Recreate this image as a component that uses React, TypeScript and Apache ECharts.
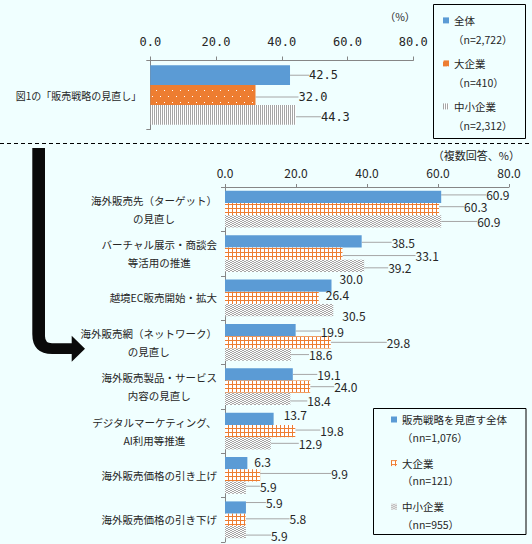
import React, { useEffect, useRef } from 'react';
import * as echarts from 'echarts';

// 図1 (top)
const topCategories = ['図1の「販売戦略の見直し」'];
const topAll = [42.5];
const topLarge = [32.0];
const topSmall = [44.3];

// 見直しの内容 (bottom)
const categories = [
  '海外販売先（ターゲット）\nの見直し',
  'バーチャル展示・商談会\n等活用の推進',
  '越境EC販売開始・拡大',
  '海外販売網（ネットワーク）\nの見直し',
  '海外販売製品・サービス\n内容の見直し',
  'デジタルマーケティング、\nAI利用等推進',
  '海外販売価格の引き上げ',
  '海外販売価格の引き下げ',
];
const reviewAll = [60.9, 38.5, 30.0, 19.9, 19.1, 13.7, 6.3, 5.9];
const reviewLarge = [60.3, 33.1, 26.4, 29.8, 24.0, 19.8, 9.9, 5.8];
const reviewSmall = [60.9, 39.2, 30.5, 18.6, 18.4, 12.9, 5.9, 5.9];

const topLegend = ['全体', '大企業', '中小企業'];
const topCounts = ['（n=2,722）', '（n=410）', '（n=2,312）'];
const bottomLegend = ['販売戦略を見直す全体', '大企業#2', '中小企業#2'];
const bottomCounts = ['（nn=1,076）', '（nn=121）', '（nn=955）'];

// label offsets (leader lines), [dx, dy]
const topOffsets = [[[14, 0]], [[38, 2]], [[20, 2]]];
const bottomOffsets = [
  [[40, -2], [25, 1], [3, -7], [20, 1], [19.5, 0], [5, -4], [2, -2], [15, -5]],
  [[20, -2.5], [68, 2], [2, -3], [51, 0], [19, 0], [20, -1], [66, -2], [39, -1]],
  [[31, 0], [19, 2], [4, 5], [13, 0], [12, 2], [23, 0], [9, -1.5], [20, 3]],
];

const BLUE = '#5B9BD5';
const ORANGE = '#ED7D31';
const GREY = '#A5A5A5';
const JP = '"Noto Sans CJK JP", sans-serif';

const ARROW =
  'M32.3 148 L32.3 334 Q32.3 354 52.3 354 L71.7 354 L71.7 361.7 L85 348.7 L71.7 335.7 L71.7 343.3 L52 343.3 Q45 343.3 45 336.3 L45 148 Z';

function tile(w: number, h: number, bg: string, fg: string, cells: number[][]) {
  const c = document.createElement('canvas');
  c.width = w;
  c.height = h;
  const ctx = c.getContext('2d')!;
  ctx.fillStyle = bg;
  ctx.fillRect(0, 0, w, h);
  ctx.fillStyle = fg;
  cells.forEach(([x, y, cw, ch]) => ctx.fillRect(x, y, cw, ch));
  return { image: c, repeat: 'repeat' };
}

function bar(
  name: string,
  values: number[],
  color: any,
  offsets: number[][],
  idx: number,
  gap: string,
  font: string,
) {
  return {
    type: 'bar',
    name,
    xAxisIndex: idx,
    yAxisIndex: idx,
    barGap: '0%',
    barCategoryGap: gap,
    itemStyle: { color },
    data: values.map((v, i) => ({ value: v, labelLine: { show: offsets[i][0] > 6 } })),
    label: {
      show: true,
      position: 'right',
      distance: 5,
      fontSize: 12,
      fontFamily: font,
      color: '#262626',
      formatter: (p: any) => Number(p.value).toFixed(1),
    },
    labelLine: { lineStyle: { color: '#A6A6A6', width: 1 } },
    labelLayout: (p: any) => ({ dx: offsets[p.dataIndex][0], dy: offsets[p.dataIndex][1] }),
  };
}

const App: React.FC = () => {
  const chartRef = useRef<HTMLDivElement>(null);

  useEffect(() => {
    echarts.graphic.registerShape('arrowShape', echarts.graphic.extendPath(ARROW, {}) as any);
    const chart = echarts.init(chartRef.current!, null, { renderer: 'svg' });

    const dots = tile(8, 12, ORANGE, '#ffffff', [[0, 0, 1, 1], [4, 6, 1, 1]]);
    const stripes = tile(2, 2, '#ffffff', GREY, [[0, 0, 1, 2]]);
    const grid = tile(4, 4, '#ffffff', ORANGE, [[0, 0, 4, 1], [0, 0, 1, 4]]);
    const checks = tile(4, 2, GREY, '#ffffff', [[0, 0, 2, 1], [2, 1, 2, 1]]);

    const axisLine = { show: true, lineStyle: { color: '#868686' } };
    const mono = '"DejaVu Sans Mono", monospace';

    const options = {
      animation: false,
      backgroundColor: '#F0FFFF',
      textStyle: { fontFamily: JP },
      grid: [
        { left: 150.3, top: 60.5, width: 263, height: 69 },
        { left: 225, top: 187, width: 284, height: 355 },
      ],
      xAxis: [
        {
          gridIndex: 0,
          type: 'value',
          position: 'top',
          min: 0,
          max: 80,
          interval: 20,
          axisLine,
          axisTick: { show: true, length: 4, lineStyle: { color: '#868686' } },
          splitLine: { show: false },
          axisLabel: {
            margin: 13,
            fontSize: 12,
            fontFamily: mono,
            color: '#262626',
            formatter: (v: number) => v.toFixed(1),
          },
        },
        {
          gridIndex: 1,
          type: 'value',
          position: 'top',
          min: 0,
          max: 80,
          interval: 20,
          axisLine,
          axisTick: { show: true, length: 3, lineStyle: { color: '#868686' } },
          splitLine: { show: false },
          axisLabel: {
            margin: 9,
            fontSize: 12,
            color: '#262626',
            formatter: (v: number) => v.toFixed(1),
          },
        },
      ],
      yAxis: [
        {
          gridIndex: 0,
          type: 'category',
          inverse: true,
          data: topCategories,
          axisLine,
          axisTick: { show: true, length: 4, lineStyle: { color: '#868686' } },
          axisLabel: { margin: 9, fontSize: 10, color: '#262626' },
        },
        {
          gridIndex: 1,
          type: 'category',
          inverse: true,
          data: categories,
          axisLine,
          axisTick: { show: true, length: 4, lineStyle: { color: '#868686' } },
          axisLabel: {
            margin: 8,
            align: 'right',
            color: '#262626',
            formatter: (v: string) =>
              v
                .split('\n')
                .map((l) => `{c|${l}}`)
                .join('\n'),
            rich: { c: { align: 'center', fontSize: 10.5, lineHeight: 18, color: '#262626' } },
          },
        },
      ],
      legend: [
        {
          left: 443,
          top: 13.4,
          orient: 'vertical',
          padding: 0,
          itemWidth: 6,
          itemHeight: 6,
          itemGap: 29,
          icon: 'rect',
          selectedMode: false,
          data: topLegend,
          textStyle: { fontSize: 10.5, lineHeight: 14, color: '#262626' },
        },
        {
          left: 391,
          top: 412.5,
          orient: 'vertical',
          padding: 0,
          itemWidth: 6,
          itemHeight: 6,
          itemGap: 29.6,
          icon: 'rect',
          selectedMode: false,
          data: bottomLegend,
          formatter: (n: string) => n.replace(/#.*/, ''),
          textStyle: { fontSize: 10.5, lineHeight: 14, color: '#262626' },
        },
      ],
      graphic: [
        {
          type: 'line',
          shape: { x1: 0, y1: 143.5, x2: 532, y2: 143.5 },
          style: { stroke: '#000', lineWidth: 1, lineDash: [4, 3] },
        },
        { type: 'arrowShape', x: 0, y: 0, style: { fill: '#0a0a0a' } },
        {
          type: 'rect',
          shape: { x: 433.5, y: 4.5, width: 92, height: 134 },
          style: { fill: 'none', stroke: '#000', lineWidth: 1 },
        },
        {
          type: 'rect',
          shape: { x: 373.5, y: 408.5, width: 152.5, height: 126 },
          style: { fill: 'none', stroke: '#000', lineWidth: 1 },
        },
        {
          type: 'text',
          x: 400,
          y: 16.5,
          style: { text: '（%）', fontSize: 10.5, fontFamily: JP, fill: '#262626', align: 'center', verticalAlign: 'middle' },
        },
        {
          type: 'text',
          x: 520,
          y: 154.5,
          style: { text: '（複数回答、%）', fontSize: 11, fontFamily: JP, fill: '#262626', align: 'right', verticalAlign: 'middle' },
        },
        ...topCounts.map((t, i) => ({
          type: 'text',
          x: 453,
          y: 39 + i * 43,
          style: { text: t, fontSize: 10.5, fontFamily: JP, fill: '#262626', verticalAlign: 'middle' },
        })),
        ...bottomCounts.map((t, i) => ({
          type: 'text',
          x: 402,
          y: 437.3 + i * 43.6,
          style: { text: t, fontSize: 10.5, fontFamily: JP, fill: '#262626', verticalAlign: 'middle' },
        })),
      ],
      series: [
        bar(topLegend[0], topAll, BLUE, topOffsets[0], 0, '14%', mono),
        bar(topLegend[1], topLarge, dots, topOffsets[1], 0, '14%', mono),
        bar(topLegend[2], topSmall, stripes, topOffsets[2], 0, '14%', mono),
        bar(bottomLegend[0], reviewAll, BLUE, bottomOffsets[0], 1, '17%', JP),
        bar(bottomLegend[1], reviewLarge, grid, bottomOffsets[1], 1, '17%', JP),
        bar(bottomLegend[2], reviewSmall, checks, bottomOffsets[2], 1, '17%', JP),
      ],
    };

    chart.setOption(options as any);

    return () => {
      chart.dispose();
    };
  }, []);

  return (
    <div
      ref={chartRef}
      style={{ position: 'fixed', left: 0, top: 0, width: '532px', height: '544px' }}
    ></div>
  );
};

export default App;
